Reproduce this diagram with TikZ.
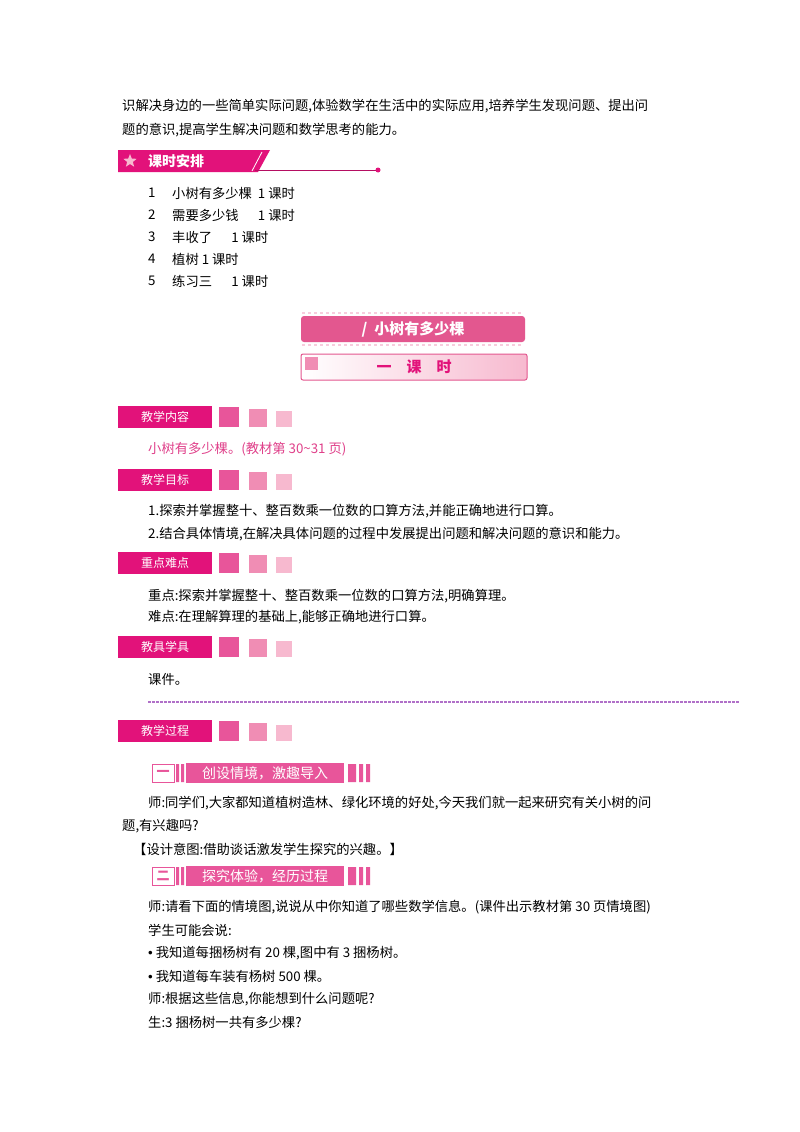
\documentclass[tikz,border=0pt]{standalone}
\usepackage{fontspec}
\setmainfont{Noto Sans CJK SC}
\newfontfamily\lat{Liberation Sans}
\usetikzlibrary{shapes.geometric}
\definecolor{mag}{HTML}{E2127A}
\definecolor{sq1}{HTML}{E8559A}
\definecolor{sq2}{HTML}{F08DB4}
\definecolor{sq3}{HTML}{F7B9CF}
\definecolor{pk}{HTML}{E0408A}
\definecolor{ban}{HTML}{E3578F}
\definecolor{vio}{HTML}{B070C8}
\begin{document}
\begin{tikzpicture}[x=1pt,y=-1pt,
 txt/.style={anchor=west,inner sep=0,font=\fontsize{13.3}{15}\selectfont},
 sqa/.style={fill=#1,minimum size=20,inner sep=0,anchor=west}]
\useasboundingbox (0,0) rectangle (800,1132);
\fill[white] (0,0) rectangle (800,1132);
% intro
\node[txt] (t1) at (122,106) {识解决身边的一些简单实际问题,体验数学在生活中的实际应用,培养学生发现问题、提出问};
\node[txt] (t2) at (122,130) {题的意识,提高学生解决问题和数学思考的能力。};
% 课时安排
\fill[mag] (118,150) -- (270,150) -- (258,172) -- (118,172) -- cycle;
\draw[white,thick] (262,152) -- (252,171);
\draw[mag,thick] (265,152) -- (255,171);
\draw[mag!80!black,line width=1pt] (255,170) -- (378,170);
\fill[mag] (378,170) circle (2.5);
\node[star,star points=5,star point ratio=2.3,fill=sq3,minimum size=14,inner sep=0] (st) at (130,161) {};
\node[anchor=west,text=white,font=\bfseries\fontsize{14}{16}\selectfont,inner sep=0] (kp) at (148,161) {课时安排};
\foreach \n/\t/\y in {1/小树有多少棵\ \ 1 课时/193,2/需要多少钱\quad\ \ 1 课时/215,3/丰收了\quad\ \ 1 课时/237,4/植树\ 1 课时/259,5/练习三\quad\ \ 1 课时/281}
  {\node[txt] (n\n) at (148,\y) {\n};\node[txt] (l\n) at (172,\y) {\t};}
% title banners
\draw[white!70!ban,dashed,line width=1.2pt] (302,313) -- (522,313) (302,345) -- (522,345);
\node[fill=ban,rounded corners=3,minimum width=224,minimum height=26,inner sep=0,text=white,font=\bfseries\fontsize{15}{17}\selectfont] (ti) at (413,329) {/\ \ 小树有多少棵};
\node[draw=ban,line width=1pt,rounded corners=2,minimum width=226,minimum height=26,inner sep=0,left color=white,right color=sq3,middle color=sq3!50,text=mag,font=\bfseries\fontsize{15}{17}\selectfont] (ks) at (414,367) {一\quad 课\quad 时};
\fill[sq2] (305,357) rectangle (318,370);
% section headers
\foreach \nm/\t/\y in {a/教学内容/417,b/教学目标/480,c/重点难点/563,d/教具学具/647,e/教学过程/731}{
 \node[fill=mag,text=white,anchor=west,minimum width=94,minimum height=22,inner sep=0,font=\fontsize{12}{14}\selectfont] (h\nm) at (118,\y) {\t};
 \node[sqa=sq1] (s1\nm) at (219,\y) {};
 \node[sqa=sq2,minimum size=18] (s2\nm) at (249,\y+1) {};
 \node[sqa=sq3,minimum size=16] (s3\nm) at (276,\y+2) {};}
\node[txt,text=pk] (c1) at (148,449) {小树有多少棵。(教材第 30\textasciitilde 31 页)};
\node[txt] (m1) at (148,511) {1.探索并掌握整十、整百数乘一位数的口算方法,并能正确地进行口算。};
\node[txt] (m2) at (148,534) {2.结合具体情境,在解决具体问题的过程中发展提出问题和解决问题的意识和能力。};
\node[txt] (z1) at (148,596) {重点:探索并掌握整十、整百数乘一位数的口算方法,明确算理。};
\node[txt] (z2) at (148,617) {难点:在理解算理的基础上,能够正确地进行口算。};
\node[txt] (j1) at (148,679) {课件。};
\draw[vio,line width=2pt,dash pattern=on 2.5pt off 1.5pt] (148,702) -- (740,702);
% sub banners
\foreach \nm/\k/\t/\y in {p/一/创设情境，激趣导入/773,q/二/探究体验，经历过程/876}{
 \node[draw=sq1,fill=white,minimum width=22,minimum height=18,inner sep=0,text=sq1,font=\bfseries\fontsize{13}{15}\selectfont] (k\nm) at (163,\y) {\k};
 \fill[sq1] (176,\y-9) rectangle (179,\y+9) (181,\y-9) rectangle (184,\y+9);
 \node[fill=sq1,anchor=west,minimum height=18,minimum width=158,inner sep=3,text=white,font=\fontsize{14}{16}\selectfont] (b\nm) at (186,\y) {\t};
 \fill[sq1] (348,\y-9) rectangle (356,\y+9) (359,\y-9) rectangle (363,\y+9) (366,\y-9) rectangle (370,\y+9);}
\node[txt] (p1) at (148,803) {师:同学们,大家都知道植树造林、绿化环境的好处,今天我们就一起来研究有关小树的问};
\node[txt] (p2) at (122,826) {题,有兴趣吗?};
\node[txt] (p3) at (133,849) {【设计意图:借助谈话激发学生探究的兴趣。】};
\node[txt] (q1) at (148,907) {师:请看下面的情境图,说说从中你知道了哪些数学信息。(课件出示教材第 30 页情境图)};
\node[txt] (q2) at (148,930) {学生可能会说:};
\node[txt] (q3) at (148,953) {{\lat •} 我知道每捆杨树有 20 棵,图中有 3 捆杨树。};
\node[txt] (q4) at (148,976) {{\lat •} 我知道每车装有杨树 500 棵。};
\node[txt] (q5) at (148,999) {师:根据这些信息,你能想到什么问题呢?};
\node[txt] (q6) at (148,1022) {生:3 捆杨树一共有多少棵?};
\end{tikzpicture}
\end{document}
